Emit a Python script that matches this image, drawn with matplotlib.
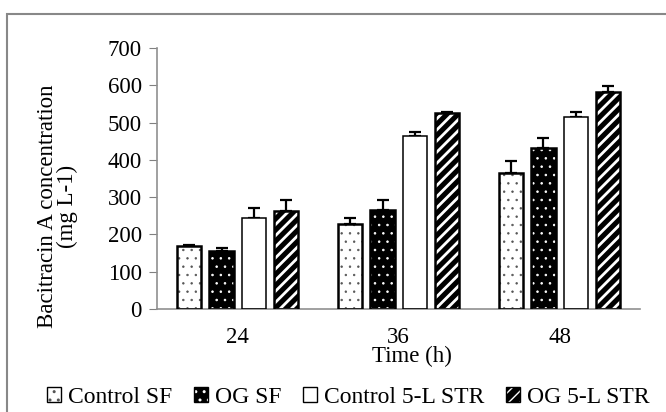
import numpy as np
import matplotlib.pyplot as plt
from matplotlib.patches import Patch, Rectangle
from matplotlib.legend_handler import HandlerTuple

plt.rcParams['font.family'] = ['Liberation Serif', 'DejaVu Serif']

times = ['24', '36', '48']
series = ['Control SF', 'OG SF', 'Control 5-L STR', 'OG 5-L STR']
control_sf = [168, 228, 365]
og_sf = [157, 265, 431]
control_str = [245, 465, 515]
og_str = [262, 525, 582]
err_control_sf = [5, 15, 33]
err_og_sf = [7, 27, 28]
err_control_str = [25, 10, 14]
err_og_str = [30, 5, 17]

values = [control_sf, og_sf, control_str, og_str]
errors = [err_control_sf, err_og_sf, err_control_str, err_og_str]
# face, hatch colour, hatch, hatch linewidth, outline width
styles = [('white', '#555555', '..', 0.5, 1.8), ('black', 'white', '..', 0.6, 1.8),
          ('white', 'black', '', 1.0, 1.1), ('black', 'white', '///', 2.0, 1.8)]

fig = plt.figure(figsize=(6.66, 4.12), dpi=100)
ax = fig.add_axes([0.236, 0.25, 0.725, 0.633])

x = np.arange(len(times))
w = 0.15
step = 0.2
handles = []
for i, (vals, err) in enumerate(zip(values, errors)):
    pos = x + (i - 1.5) * step
    face, hcol, hatch, hlw, olw = styles[i]
    with plt.rc_context({'hatch.linewidth': hlw}):
        ax.bar(pos, vals, w, color=face, edgecolor=hcol, hatch=hatch, linewidth=0, zorder=2)
        fill = Patch(facecolor=face, edgecolor=hcol, hatch=hatch, linewidth=0)
    ax.bar(pos, vals, w, fill=False, edgecolor='black', linewidth=olw, zorder=3)
    ax.errorbar(pos, vals, yerr=[np.zeros(len(err)), err], fmt='none',
                ecolor='black', elinewidth=1.6, capsize=4, capthick=1.6, zorder=1)
    handles.append((fill, Patch(fill=False, edgecolor='black', linewidth=1.0)))

ax.set_xlim(-0.5, 2.5)
ax.set_ylim(0, 700)
ax.set_yticks(range(0, 701, 100))
ax.set_xticks(x)
ax.set_xticklabels(times)
ax.tick_params(axis='x', length=0, pad=13, labelsize=16.5)
ax.tick_params(axis='y', direction='out', length=6, color='#808080', labelsize=16.5, pad=5)
for s in ['top', 'right']:
    ax.spines[s].set_visible(False)
for s in ['left', 'bottom']:
    ax.spines[s].set_color('#909090')
    ax.spines[s].set_linewidth(1.2)

fig.text(0.086, 0.5, 'Bacitracin A concentration\n(mg L-1)', rotation=90, ha='center',
         va='center', multialignment='center', fontsize=16.5, linespacing=0.95)
fig.text(0.619, 0.134, 'Time (h)', ha='center', va='center', fontsize=16.5)

fig.legend(handles, series, loc='center', bbox_to_anchor=(0.523, 0.036), ncol=4,
           frameon=False, fontsize=17, handlelength=0.6, handleheight=0.6,
           handletextpad=0.3, columnspacing=0.9, borderaxespad=0, borderpad=0,
           handler_map={tuple: HandlerTuple(ndivide=1, pad=0)})

fig.add_artist(Rectangle((7 / 666, -0.01), 0.999, 1 - 14 / 412 + 0.01, transform=fig.transFigure,
                         fill=False, edgecolor='#888888', linewidth=1.5))

fig.savefig('out.png', dpi=100)
